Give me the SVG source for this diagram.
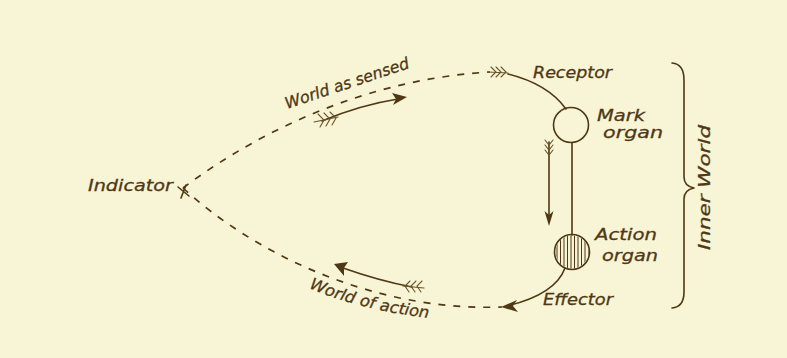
<svg xmlns="http://www.w3.org/2000/svg" width="787" height="358" viewBox="0 0 787 358">
<defs>
<style>
.ink{fill:none;stroke:#4f3815;stroke-width:1.6;stroke-linecap:round;stroke-linejoin:round}
.dash{fill:none;stroke:#4f3815;stroke-width:1.7;stroke-dasharray:7 8}
.head{fill:#4f3815;stroke:none}
.feather{fill:none;stroke:#6b5628;stroke-width:1.1;stroke-linecap:round}
.lbl{font-family:"DejaVu Sans","Liberation Sans",sans-serif;font-style:italic;font-size:16px;fill:#4f3815;stroke:#4f3815;stroke-width:0.3}
</style>
<clipPath id="clipAction"><circle cx="572" cy="252" r="16.5"/></clipPath>
<path id="woaPath" d="M309,288 Q362,311 437,319"/>
</defs>
<rect x="0" y="0" width="787" height="358" fill="#f8f5d6"/>

<g id="connectors">
  <path class="dash" d="M183,188 C240,145 350,80 490,72"/>
  <g class="feather">
    <path d="M491,67 L496,72 L491,77"/>
    <path d="M496,67 L501,72 L496,77"/>
    <path d="M501,67 L506,72 L501,77"/>
    <path d="M488,72 L508,73"/>
  </g>
  <path class="ink" d="M508,74 Q548,84 566,109"/>
  <path class="ink" d="M572,143 L572,235"/>
  <path class="ink" d="M549,142 L549,216"/>
  <g class="feather">
    <path d="M545,140 L549,145 L553,140"/>
    <path d="M545,145 L549,150 L553,145"/>
    <path d="M545,150 L549,155 L553,150"/>
  </g>
  <path class="head" d="M549,226 L544.5,211 L549,215 L553.5,211 Z"/>
  <path class="ink" d="M565,268 C557,290 532,300 507,306"/>
  <path class="head" d="M501,307 L517,300 L513,306 L518,312 Z"/>
  <path class="dash" d="M183,188 C250,250 370,312 502,307"/>
  <path class="ink" d="M322,121 Q360,105 398,99"/>
  <path class="head" d="M407,97 L392,93 L396,99 L393,105 Z"/>
  <g class="feather">
    <path d="M318,114 L324,120 L320,127"/>
    <path d="M324,113 L330,119 L326,126"/>
    <path d="M330,112 L336,118 L332,125"/>
    <path d="M314,122 L338,117"/>
  </g>
  <path class="ink" d="M412,287 Q380,281 343,268"/>
  <path class="head" d="M334,264 L348,262 L344,268 L344,276 Z"/>
  <g class="feather">
    <path d="M410,281 L405,286 L409,292"/>
    <path d="M416,281 L411,286 L415,292"/>
    <path d="M422,281 L417,286 L421,292"/>
    <path d="M403,286 L424,288"/>
  </g>
  <path class="ink" d="M178,187 L189,196 M186,185 L181,198"/>
  <path class="ink" d="M672,63 Q684,64 684,80 L684,177 Q684,186 694,188 Q684,190 684,199 L684,292 Q684,307 672,308"/>
</g>

<g id="mark-organ">
  <circle class="ink" cx="571" cy="125" r="17.5"/>
  <text class="lbl" x="597" y="121" textLength="48" lengthAdjust="spacingAndGlyphs">Mark</text>
  <text class="lbl" x="603" y="138" textLength="60" lengthAdjust="spacingAndGlyphs">organ</text>
</g>

<g id="action-organ">
  <g clip-path="url(#clipAction)" stroke="#4f3815" stroke-width="1">
    <path d="M557,230 V275 M560.5,230 V275 M564,230 V275 M567.5,230 V275 M571,230 V275 M574.5,230 V275 M578,230 V275 M581.5,230 V275 M585,230 V275 M588.5,230 V275"/>
  </g>
  <circle class="ink" cx="572" cy="252" r="17.5"/>
  <text class="lbl" x="595" y="240" textLength="62" lengthAdjust="spacingAndGlyphs">Action</text>
  <text class="lbl" x="602" y="261" textLength="56" lengthAdjust="spacingAndGlyphs">organ</text>
</g>

<g id="receptor">
  <text class="lbl" x="533" y="78" textLength="79" lengthAdjust="spacingAndGlyphs">Receptor</text>
</g>

<g id="effector">
  <text class="lbl" x="543" y="305" textLength="70" lengthAdjust="spacingAndGlyphs">Effector</text>
</g>

<g id="indicator">
  <text class="lbl" x="88" y="191" font-size="17" textLength="85" lengthAdjust="spacingAndGlyphs">Indicator</text>
</g>

<g id="world-as-sensed">
  <text class="lbl" transform="translate(287,109) rotate(-18.5)" font-size="16" textLength="130" lengthAdjust="spacingAndGlyphs">World as sensed</text>
</g>

<g id="world-of-action">
  <text class="lbl" font-size="16"><textPath href="#woaPath" textLength="124" lengthAdjust="spacingAndGlyphs">World of action</textPath></text>
</g>

<g id="inner-world">
  <text class="lbl" transform="translate(710,250) rotate(-90)" font-size="16" textLength="125" lengthAdjust="spacingAndGlyphs">Inner World</text>
</g>
</svg>
